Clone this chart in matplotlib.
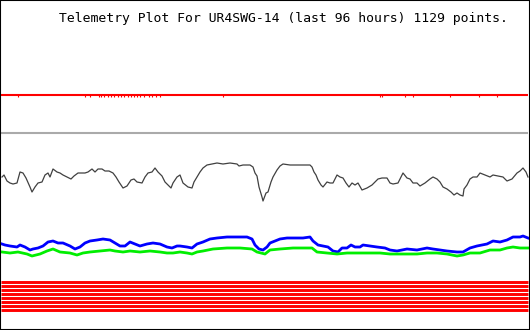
import matplotlib
matplotlib.use('Agg')
import matplotlib.pyplot as plt

title = 'Telemetry Plot For UR4SWG-14 (last 96 hours) 1129 points.'

# chart is laid out in plot units: x across (0..530), y down (0..330)
red_level = 95
red_dips = [18, 85, 90, 99, 101, 104, 108, 111, 114, 118, 121, 124, 128, 131, 134, 137, 140, 144,
            149, 152, 156, 160, 223, 380, 382, 405, 413, 450, 479, 497]

gray_level = 133

black_x = [2, 4, 7, 10, 13, 17, 20, 23, 26, 30, 32, 35, 38, 42, 45, 48, 50, 53, 57, 60, 63, 67,
           71, 74, 78, 82, 85, 88, 92, 95, 98, 102, 105, 109, 113, 116, 119, 123, 127, 131, 134,
           137, 142, 145, 148, 152, 155, 158, 162, 165, 168, 171, 173, 177, 180, 183, 188, 192,
           194, 197, 200, 203, 207, 212, 217, 223, 230, 237, 239, 243, 250, 253, 255, 257, 259,
           262, 263, 266, 268, 271, 273, 277, 280, 283, 290, 300, 310, 312, 314, 316, 318, 321,
           323, 327, 330, 333, 337, 340, 343, 346, 349, 352, 355, 358, 362, 367, 372, 375, 378,
           382, 387, 390, 393, 398, 403, 407, 410, 413, 417, 420, 425, 430, 433, 437, 440, 443,
           447, 451, 454, 457, 460, 463, 464, 467, 470, 473, 477, 480, 485, 490, 493, 498, 503,
           507, 512, 517, 520, 523, 526, 528]
black_y = [177, 175, 181, 183, 184, 183, 172, 173, 178, 187, 192, 187, 183, 182, 175, 173, 177,
           169, 172, 173, 175, 177, 179, 176, 173, 173, 173, 172, 169, 172, 169, 169, 171, 171,
           173, 177, 182, 188, 186, 180, 179, 182, 183, 177, 173, 172, 168, 172, 176, 182, 185,
           188, 183, 177, 175, 183, 187, 188, 182, 177, 172, 168, 165, 164, 163, 164, 163, 164,
           166, 165, 165, 167, 173, 176, 187, 197, 201, 193, 192, 182, 177, 170, 166, 164, 165,
           165, 165, 167, 172, 175, 180, 185, 187, 182, 183, 183, 175, 177, 178, 183, 187, 183,
           185, 183, 190, 188, 185, 182, 179, 178, 178, 183, 184, 183, 173, 178, 179, 183, 183,
           186, 183, 179, 177, 179, 182, 187, 189, 192, 195, 193, 195, 196, 189, 185, 179, 177,
           177, 173, 175, 177, 175, 176, 177, 181, 179, 173, 171, 168, 172, 177]

blue_x = [2, 5, 10, 17, 20, 25, 30, 33, 38, 43, 48, 53, 58, 63, 70, 75, 80, 85, 90, 97, 103, 110,
          115, 120, 125, 130, 135, 140, 147, 153, 160, 167, 172, 177, 180, 187, 192, 197, 203,
          210, 217, 227, 237, 247, 252, 255, 259, 263, 267, 270, 275, 280, 287, 295, 303, 310,
          313, 318, 323, 328, 333, 338, 342, 347, 351, 355, 360, 363, 370, 377, 385, 390, 397,
          407, 417, 427, 433, 440, 447, 457, 463, 470, 477, 487, 493, 500, 507, 513, 520, 523, 528]
blue_y = [244, 245, 246, 247, 245, 247, 250, 249, 248, 246, 242, 241, 243, 243, 246, 249, 247,
          243, 241, 240, 239, 240, 243, 246, 246, 242, 244, 246, 244, 243, 244, 247, 248, 246,
          246, 247, 248, 244, 242, 239, 238, 237, 237, 237, 239, 245, 249, 250, 247, 243, 241,
          239, 238, 238, 238, 237, 241, 245, 246, 247, 251, 252, 248, 248, 245, 247, 247, 245,
          246, 247, 248, 250, 251, 249, 250, 248, 249, 250, 251, 252, 252, 248, 246, 244, 241,
          242, 240, 237, 237, 236, 238]

green_x = [2, 10, 18, 27, 32, 40, 47, 53, 60, 70, 77, 83, 90, 100, 110, 115, 123, 130, 140, 150,
           160, 167, 173, 180, 187, 192, 197, 203, 213, 227, 240, 252, 257, 265, 270, 280, 293,
           307, 312, 317, 327, 337, 347, 360, 370, 380, 390, 403, 417, 427, 437, 447, 457, 463,
           470, 480, 490, 500, 507, 513, 520, 528]
green_y = [252, 253, 252, 254, 256, 254, 251, 249, 252, 253, 255, 253, 252, 251, 250, 251, 252,
           251, 252, 251, 252, 253, 253, 252, 253, 254, 252, 251, 249, 248, 248, 249, 252, 254,
           250, 249, 248, 248, 248, 252, 253, 254, 253, 253, 253, 253, 254, 254, 254, 253, 253,
           254, 256, 255, 253, 253, 250, 250, 248, 247, 248, 248]

# eight status bits, all held at the same state
bit_levels = [281.5, 285.5, 289.5, 293.5, 297.5, 301.5, 305.5, 309.5]

fig = plt.figure(figsize=(5.3, 3.3), dpi=100)
ax = fig.add_axes([0, 0, 1, 1])
ax.set_xlim(0, 530)
ax.set_ylim(330, 0)

ax.hlines(red_level, 1, 528, color='#ff0000', lw=1.5)
ax.vlines(red_dips, red_level, red_level + 2, color='#ff0000', lw=0.8)
ax.hlines(gray_level, 1, 528, color='#aaaaaa', lw=1.5)

ax.plot(black_x, black_y, color='#404040', lw=0.9)
ax.plot(blue_x, blue_y, color='#0000ff', lw=2.0)
ax.plot(green_x, green_y, color='#00ee00', lw=2.0)

for lv in bit_levels:
    ax.hlines(lv, 1, 528, color='#ff0000', lw=2.1)

ax.text(59, 22, title, family='DejaVu Sans Mono', fontsize=9.45, ha='left', va='baseline')

ax.set_xticks([])
ax.set_yticks([])
for s in ax.spines.values():
    s.set_linewidth(1.5)
    s.set_color('black')

fig.savefig('out.png', dpi=100)
